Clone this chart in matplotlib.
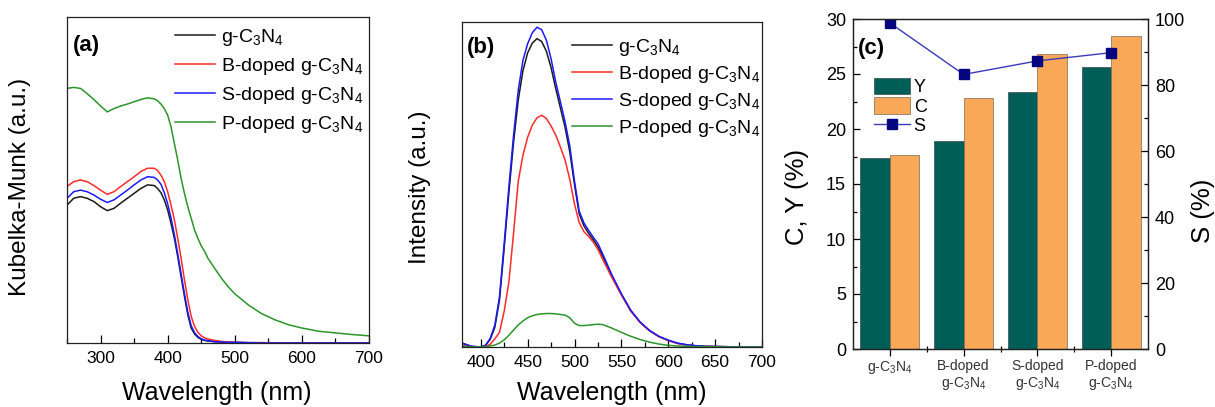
import matplotlib
matplotlib.use("Agg")
import matplotlib.pyplot as plt
from matplotlib.ticker import MultipleLocator, FixedLocator, NullLocator
from matplotlib.patches import Patch
from matplotlib.lines import Line2D

plt.rcParams['font.family'] = ['Liberation Sans', 'DejaVu Sans']
plt.rcParams['mathtext.default'] = 'regular'

# ---------------- data ----------------
samples = ['g-C$_3$N$_4$', 'B-doped g-C$_3$N$_4$', 'S-doped g-C$_3$N$_4$', 'P-doped g-C$_3$N$_4$']
sample_ticklabels = ['g-C$_3$N$_4$', 'B-doped\ng-C$_3$N$_4$', 'S-doped\ng-C$_3$N$_4$', 'P-doped\ng-C$_3$N$_4$']
line_colors = ['#1a1a1a', '#ff2a2a', '#1a1aff', '#2a962a']

# (a) diffuse reflectance, Kubelka-Munk function
wl_abs = [250, 260, 270, 280, 290, 300, 310, 320, 330, 340, 350, 360, 370, 380,
          385, 390, 395, 400, 405, 410, 415, 420, 425, 430, 435, 440, 445, 450, 455, 460,
          470, 480, 490, 500, 520, 540, 560, 580, 600, 625, 650, 675, 700]
km_g = [42.3, 44.4, 44.9, 44.4, 43.4, 41.8, 40.6, 41.3, 42.9, 44.4, 45.9, 47.4, 48.5, 48.3,
        47.4, 46.1, 43.9, 40.8, 36.7, 32.1, 26.5, 20.4, 14.3, 8.7, 4.6, 2.8, 1.7, 1.1, 0.8, 0.6,
        0.4, 0.3, 0.2, 0.2, 0.1, 0.1, 0.0, 0.0, 0.0, 0.0, 0.0, 0.0, 0.0]
km_b = [48.0, 49.5, 50.0, 49.5, 48.3, 46.9, 45.6, 46.4, 48.0, 49.5, 51.0, 52.6, 53.6, 53.6,
        52.9, 51.5, 49.5, 46.4, 42.3, 37.8, 32.1, 26.0, 19.4, 13.3, 8.2, 5.1, 3.3, 2.2, 1.6, 1.2,
        0.8, 0.5, 0.3, 0.2, 0.1, 0.1, 0.0, 0.0, 0.0, 0.0, 0.0, 0.0, 0.0]
km_s = [44.4, 46.4, 46.9, 46.4, 45.4, 44.1, 43.1, 43.9, 45.4, 46.9, 48.5, 50.0, 51.0, 50.8,
        50.0, 48.7, 46.1, 42.7, 38.3, 33.2, 27.3, 21.2, 15.1, 9.5, 5.3, 3.2, 2.0, 1.3, 0.9, 0.7,
        0.4, 0.3, 0.2, 0.2, 0.1, 0.0, 0.0, 0.0, 0.0, 0.0, 0.0, 0.0, 0.0]
km_p = [78.1, 78.4, 78.1, 76.5, 74.7, 72.7, 70.9, 71.9, 72.7, 73.3, 74.0, 74.7, 75.2, 74.9,
        74.3, 73.3, 71.9, 69.9, 66.3, 61.2, 56.1, 50.5, 45.9, 41.8, 38.3, 34.7, 32.1, 29.8, 28.1, 26.0,
        22.9, 19.9, 17.3, 15.1, 11.7, 9.0, 7.1, 5.6, 4.6, 3.6, 3.1, 2.6, 2.2]

# (b) photoluminescence spectra
wl_pl = [380, 390, 400, 405, 410, 415, 420, 425, 430, 435, 440, 445, 450, 455, 460, 465, 470,
         475, 480, 485, 490, 495, 500, 505, 510, 515, 520, 525, 530, 540, 550, 560, 570, 580,
         590, 600, 610, 620, 630, 640, 660, 680, 700]
pl_g = [1.2, 0.2, 0.0, 0.5, 2.3, 6.0, 14.5, 30.5, 47.5, 63.0, 76.0, 85.0, 90.5, 93.5, 94.9, 94.0, 91.0,
        86.0, 79.5, 73.5, 67.5, 60.0, 50.0, 41.0, 37.3, 35.0, 33.0, 30.8, 28.0, 21.8, 16.2, 11.2, 7.6, 5.0,
        3.2, 2.0, 1.1, 0.6, 0.3, 0.2, 0.1, 0.0, 0.0]
pl_b = [0.5, 0.1, 0.0, 0.2, 0.8, 2.5, 4.5, 11.0, 20.0, 35.0, 51.0, 59.0, 64.5, 68.3, 70.5, 71.3, 70.3,
        68.0, 65.2, 61.5, 57.5, 51.5, 44.0, 38.3, 35.5, 34.0, 32.3, 30.0, 27.0, 21.3, 16.0, 11.0, 7.5, 5.0,
        3.2, 2.0, 1.1, 0.6, 0.3, 0.2, 0.1, 0.0, 0.0]
pl_s = [1.2, 0.2, 0.0, 0.5, 2.6, 6.7, 15.4, 31.8, 49.2, 65.1, 79.0, 88.2, 93.3, 96.7, 98.4, 97.6, 94.4,
        88.7, 81.5, 75.4, 69.2, 61.8, 51.0, 41.8, 38.2, 35.9, 33.8, 31.8, 28.7, 22.1, 16.4, 11.3, 7.7, 5.1,
        3.3, 2.1, 1.2, 0.7, 0.4, 0.2, 0.1, 0.0, 0.0]
pl_p = [0.2, 0.0, 0.0, 0.1, 0.3, 0.6, 1.2, 2.2, 3.6, 5.2, 6.8, 8.0, 9.0, 9.6, 10.0, 10.2, 10.3,
        10.3, 10.2, 10.0, 9.8, 9.0, 7.3, 6.6, 6.6, 6.7, 6.9, 7.0, 6.9, 5.8, 4.5, 3.3, 2.3, 1.5,
        0.9, 0.5, 0.3, 0.2, 0.1, 0.1, 0.0, 0.0, 0.0]

# (c) yield, conversion and selectivity
yield_y = [17.4, 18.9, 23.4, 25.6]
conv_c = [17.6, 22.8, 26.8, 28.5]
select_s = [98.8, 83.2, 87.3, 89.8]

W, H = 1215, 407
fig = plt.figure(figsize=(W / 100, H / 100), dpi=100)


def frac(left, top, right, bottom):
    return [left / W, 1 - bottom / H, (right - left) / W, (bottom - top) / H]


def style_spines(ax):
    for sp in ax.spines.values():
        sp.set_linewidth(0.9)
        sp.set_color('#222222')


# ---------------- (a) ----------------
ax1 = fig.add_axes(frac(67, 17, 369, 343))
for vals, col, lab in zip([km_g, km_b, km_s, km_p], line_colors, samples):
    ax1.plot(wl_abs, vals, color=col, lw=1.1, label=lab)
ax1.set_xlim(250, 700)
ax1.set_ylim(0, 100)
ax1.xaxis.set_major_locator(MultipleLocator(100))
ax1.xaxis.set_minor_locator(MultipleLocator(50))
ax1.yaxis.set_major_locator(NullLocator())
ax1.tick_params(axis='x', which='major', direction='in', length=6, width=0.9, labelsize=12.5, pad=6)
ax1.tick_params(axis='x', which='minor', direction='in', length=3.5, width=0.9)
style_spines(ax1)
ax1.text(0.02, 0.914, '(a)', transform=ax1.transAxes, fontsize=16, fontweight='bold', va='center')
ax1.legend(loc='upper left', bbox_to_anchor=(0.358, 0.97), frameon=False, fontsize=14,
           handlelength=2.05, handletextpad=0.3, labelspacing=0.42, borderpad=0, borderaxespad=0)
fig.text(20 / W, 1 - 187 / H, 'Kubelka-Munk (a.u.)', rotation=90, ha='center', va='center', fontsize=17.5)
fig.text(217 / W, 1 - 400 / H, 'Wavelength (nm)', ha='center', va='baseline', fontsize=18)

# ---------------- (b) ----------------
ax2 = fig.add_axes(frac(462, 22, 762, 347))
for vals, col, lab in zip([pl_g, pl_b, pl_s, pl_p], line_colors, samples):
    ax2.plot(wl_pl, vals, color=col, lw=1.1, label=lab)
ax2.set_xlim(380, 700)
ax2.set_ylim(0, 100)
ax2.xaxis.set_major_locator(MultipleLocator(50))
ax2.xaxis.set_minor_locator(MultipleLocator(25))
ax2.yaxis.set_major_locator(NullLocator())
ax2.tick_params(axis='x', which='major', direction='in', length=6, width=0.9, labelsize=12.5, pad=6)
ax2.tick_params(axis='x', which='minor', direction='in', length=3.5, width=0.9)
style_spines(ax2)
ax2.text(0.017, 0.923, '(b)', transform=ax2.transAxes, fontsize=16, fontweight='bold', va='center')
ax2.legend(loc='upper left', bbox_to_anchor=(0.367, 0.955), frameon=False, fontsize=14,
           handlelength=2.05, handletextpad=0.3, labelspacing=0.32, borderpad=0, borderaxespad=0)
fig.text(420 / W, 1 - 187 / H, 'Intensity (a.u.)', rotation=90, ha='center', va='center', fontsize=17.5)
fig.text(612 / W, 1 - 400 / H, 'Wavelength (nm)', ha='center', va='baseline', fontsize=18)

# ---------------- (c) ----------------
ax3 = fig.add_axes(frac(853, 19, 1148, 349))
pos = list(range(len(yield_y)))
bw = 0.4
ax3.bar([p - bw / 2 for p in pos], yield_y, width=bw, color='#005e59', edgecolor='#3a4a48', lw=0.5, label='Y')
ax3.bar([p + bw / 2 for p in pos], conv_c, width=bw, color='#f9a857', edgecolor='#7a6a58', lw=0.5, label='C')
ax3.set_xlim(-0.5, 3.5)
ax3.set_ylim(0, 30)
ax3.set_xticks(pos)
ax3.set_xticklabels(sample_ticklabels, fontsize=10, color='#333333', linespacing=1.15)
ax3.xaxis.set_minor_locator(FixedLocator([0.5, 1.5, 2.5]))
ax3.tick_params(axis='x', which='major', direction='out', length=5, width=0.9, pad=2)
ax3.tick_params(axis='x', which='minor', direction='inout', length=4, width=0.9)
ax3.yaxis.set_major_locator(MultipleLocator(5))
ax3.yaxis.set_minor_locator(MultipleLocator(2.5))
ax3.tick_params(axis='y', which='major', direction='in', length=5, width=0.9, labelsize=13, pad=5)
ax3.tick_params(axis='y', which='minor', direction='in', length=3, width=0.9)
style_spines(ax3)

ax4 = ax3.twinx()
ax4.plot(pos, select_s, color='#3a3ab8', lw=1.0, marker='s', markersize=7.5,
         markerfacecolor='#050580', markeredgecolor='#050580', label='S')
ax4.set_ylim(0, 100)
ax4.yaxis.set_major_locator(MultipleLocator(20))
ax4.yaxis.set_minor_locator(MultipleLocator(10))
ax4.tick_params(axis='y', which='major', direction='in', length=5, width=0.9, labelsize=13, pad=5)
ax4.tick_params(axis='y', which='minor', direction='in', length=3, width=0.9)
style_spines(ax4)

ax3.text(0.017, 0.912, '(c)', transform=ax3.transAxes, fontsize=16, fontweight='bold', va='center')
handles = [Patch(facecolor='#005e59', edgecolor='#3a4a48', lw=0.5),
           Patch(facecolor='#f9a857', edgecolor='#7a6a58', lw=0.5),
           Line2D([], [], color='#3a3ab8', lw=1.0, marker='s', markersize=7.5,
                  markerfacecolor='#050580', markeredgecolor='#050580')]
ax3.legend(handles, ['Y', 'C', 'S'], loc='upper left', bbox_to_anchor=(0.071, 0.822), frameon=False,
           fontsize=13, handlelength=2.0, handleheight=1.05, handletextpad=0.2, labelspacing=0.05,
           borderpad=0, borderaxespad=0)
fig.text(797 / W, 1 - 197 / H, 'C, Y (%)', rotation=90, ha='center', va='center', fontsize=18.5)
fig.text(1203 / W, 1 - 211 / H, 'S (%)', rotation=90, ha='center', va='center', fontsize=18.5)

fig.savefig('out.png', dpi=100)
